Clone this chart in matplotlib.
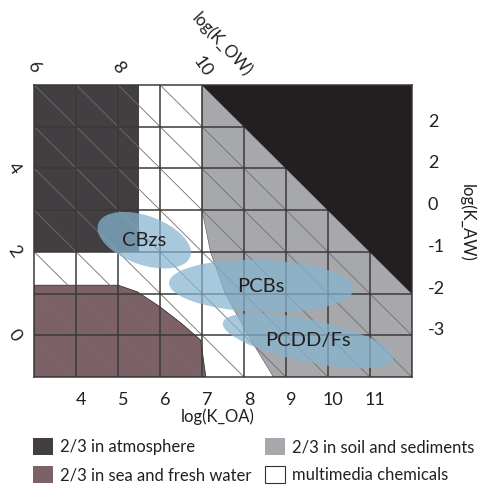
import matplotlib
matplotlib.use("Agg")
import matplotlib.pyplot as plt
from matplotlib.patches import Polygon, Ellipse, Patch
from matplotlib.transforms import ScaledTranslation, blended_transform_factory

plt.rcParams['font.family'] = ['Lato', 'DejaVu Sans']

# ---- data ----
koa_range = [3, 12]
kaw_range = [-4, 3]
koa_ticks = [4, 5, 6, 7, 8, 9, 10, 11]
koa_labels = ["4", "5", "6", "7", "8", "9", "10", "11"]
kaw_ticks = [2, 1, 0, -1, -2, -3]
kaw_labels = ["2", "2", "0", "-1", "-2", "-3"]
kow_top_ticks = [6, 8, 10]
kow_left_ticks = [0, 2, 4]

atmosphere_x = [3, 5.5, 5.5, 3]
atmosphere_y = [-1, -1, 3, 3]
water_x = [3, 3, 5.0, 5.46, 6.0, 6.5, 6.97, 7.01, 7.09]
water_y = [-4, -1.8, -1.8, -1.96, -2.32, -2.71, -3.12, -3.43, -4]
soil_x = [7, 7, 7.1, 7.2, 7.55, 8.1, 8.7, 12, 12]
soil_y = [3, 0, -0.5, -1, -2, -3, -4, -4, 3]
black_x = [7, 12, 12]
black_y = [3, 3, -2]

groups = ["CBzs", "PCBs", "PCDD/Fs"]
group_koa = [5.62, 8.41, 9.53]
group_kaw = [-0.72, -1.82, -3.13]
group_w = [2.33, 4.4, 4.16]
group_h = [1.17, 1.25, 1.02]
group_angle = [-20, -2, -12]

legend_labels = ["2/3 in atmosphere", "2/3 in sea and fresh water",
                 "2/3 in soil and sediments", "multimedia chemicals"]

# ---- styles ----
C_ATM = '#423e42'
C_WATER = '#7c6166'
C_SOIL = '#a7a8ab'
C_BLACK = '#231f20'
C_GRID = '#3a3a3a'
C_ELL = '#87b5d0'
TXT = '#231f20'
FS = 12
FS_TICK = 13
FS_GROUP = 14.5

fig = plt.figure(figsize=(4.82, 4.94), dpi=100)
ax = fig.add_axes([0.0712, 0.2368, 0.7832, 0.5911])
ax.set_xlim(*koa_range)
ax.set_ylim(*kaw_range)
ax.set_xticks([])
ax.set_yticks([])
for s in ax.spines.values():
    s.set_color(C_GRID)
    s.set_linewidth(1.1)
    s.set_zorder(6)

ax.add_patch(Polygon(list(zip(atmosphere_x, atmosphere_y)), closed=True,
                     facecolor=C_ATM, edgecolor='none', zorder=1))
ax.add_patch(Polygon(list(zip(water_x, water_y)), closed=True,
                     facecolor=C_WATER, edgecolor='#333333', linewidth=0.6, zorder=1))
ax.add_patch(Polygon(list(zip(soil_x, soil_y)), closed=True,
                     facecolor=C_SOIL, edgecolor='#555555', linewidth=0.4, zorder=1))

# diagonal lines of constant log K_OW
for k in range(koa_range[0] + kaw_range[0], koa_range[1] + kaw_range[1] + 1):
    ax.plot([koa_range[0] - 1, koa_range[1] + 1],
            [k - (koa_range[0] - 1), k - (koa_range[1] + 1)],
            color='#6e6e6e', linewidth=0.6, zorder=2)

# square grid
for v in koa_ticks:
    ax.axvline(v, color=C_GRID, linewidth=1.1, zorder=2.5)
for v in kaw_ticks:
    ax.axhline(v, color=C_GRID, linewidth=1.1, zorder=2.5)

ax.add_patch(Polygon(list(zip(black_x, black_y)), closed=True,
                     facecolor=C_BLACK, edgecolor='none', zorder=3))

for name, x, y, w, h, a in zip(groups, group_koa, group_kaw, group_w, group_h, group_angle):
    ax.add_patch(Ellipse((x, y), w, h, angle=a, facecolor=C_ELL,
                         edgecolor='none', alpha=0.72, zorder=4))
    ax.text(x, y, name, ha='center', va='center', fontsize=FS_GROUP,
            color=TXT, zorder=5)

def off(dx, dy):
    return ScaledTranslation(dx / 100, dy / 100, fig.dpi_scale_trans)

bx = blended_transform_factory(ax.transData, ax.transAxes)
by = blended_transform_factory(ax.transAxes, ax.transData)

for v, s in zip(koa_ticks, koa_labels):
    ax.text(v, 0, s, transform=bx + off(5, -23), ha='center', va='center',
            fontsize=FS_TICK, color=TXT)
for v, s in zip(kaw_ticks, kaw_labels):
    ax.text(1, v, s, transform=by + off(16, 5), ha='left', va='center',
            fontsize=FS_TICK, color=TXT)
for v in kow_top_ticks:
    ax.text(v - kaw_range[1], 1, str(v), transform=bx + off(0, 18),
            ha='center', va='center', rotation=-55, fontsize=FS_TICK, color=TXT)
for v in kow_left_ticks:
    ax.text(0, v - koa_range[0], str(v), transform=by + off(-20, 0),
            ha='center', va='center', rotation=-55, fontsize=FS_TICK, color=TXT)

ax.text(0.4854, 0, "log(K_OA)", transform=ax.transAxes + off(0, -40),
        ha='center', va='center', fontsize=FS, color=TXT)
ax.text(0.4966, 1, "log(K_OW)", transform=ax.transAxes + off(0, 40),
        ha='center', va='center', rotation=-47, fontsize=FS, color=TXT)
ax.text(1, 0.529, "log(K_AW)", transform=ax.transAxes + off(55, 0),
        ha='center', va='center', rotation=270, fontsize=FS, color=TXT)

handles = [Patch(facecolor=C_ATM, edgecolor='none'),
           Patch(facecolor=C_WATER, edgecolor='none'),
           Patch(facecolor=C_SOIL, edgecolor='none'),
           Patch(facecolor='white', edgecolor='#333333', linewidth=0.8)]
common = dict(frameon=False, fontsize=FS, handlelength=1.2, handleheight=1.2,
              handletextpad=0.42, labelspacing=0.66, borderpad=0,
              borderaxespad=0, loc='upper left', labelcolor=TXT)
leg1 = fig.legend(handles[:2], legend_labels[:2],
                  bbox_to_anchor=(33 / 482, 1 - 438 / 494), **common)
leg2 = fig.legend(handles[2:], legend_labels[2:],
                  bbox_to_anchor=(265 / 482, 1 - 438 / 494), **common)

fig.savefig("out.png", dpi=100)
